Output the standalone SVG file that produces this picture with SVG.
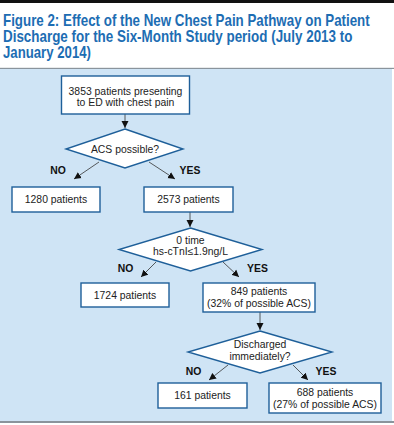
<svg xmlns="http://www.w3.org/2000/svg" width="394" height="425" viewBox="0 0 394 425">
<defs>
<marker id="ah" markerWidth="8" markerHeight="8" refX="7" refY="4" orient="auto" markerUnits="userSpaceOnUse">
<path d="M0,0.5 L7,4 L0,7.5 z" fill="#111"/>
</marker>
<style>
.title{font-family:"Liberation Sans",Arial,sans-serif;font-weight:bold;font-size:16px;fill:#1d6db3}
.box{fill:#fff;stroke:#1e5f99;stroke-width:1.4}
.t{font-family:"Liberation Sans",Arial,sans-serif;font-size:10.4px;fill:#222;text-anchor:middle}
.lbl{font-family:"Liberation Sans",Arial,sans-serif;font-size:10.4px;font-weight:bold;fill:#111;text-anchor:middle}
.c{stroke:#333;stroke-width:0.8;fill:none;marker-end:url(#ah)}
</style>
</defs>
<rect x="0" y="0" width="394" height="425" fill="#fff"/>
<rect x="0" y="0" width="394" height="3" fill="#111"/>
<g id="title">
<text class="title" transform="translate(3,25.7) scale(0.834,1)">Figure 2: Effect of the New Chest Pain Pathway on Patient</text>
<text class="title" transform="translate(3,41.7) scale(0.839,1)">Discharge for the Six-Month Study period (July 2013 to</text>
<text class="title" transform="translate(3,57.7) scale(0.825,1)">January 2014)</text>
</g>
<rect x="0" y="67.8" width="394" height="1.2" fill="#8a949c"/>
<rect x="0" y="69" width="392" height="352" fill="#cfe4f5"/>
<rect x="0" y="421" width="394" height="2" fill="#8a949c"/>

<g id="connectors">
<line class="c" x1="125" y1="114" x2="125" y2="128"/>
<line class="c" x1="99" y1="162" x2="74" y2="179"/>
<line class="c" x1="149" y1="162" x2="175" y2="179"/>
<line class="c" x1="190" y1="212" x2="190" y2="227"/>
<line class="c" x1="156" y1="262" x2="141" y2="277"/>
<line class="c" x1="223" y1="262" x2="239" y2="277"/>
<line class="c" x1="260" y1="312" x2="260" y2="330"/>
<line class="c" x1="228" y1="365" x2="209" y2="380"/>
<line class="c" x1="293" y1="365" x2="308" y2="380"/>
</g>

<g id="n-start">
<rect class="box" x="61.5" y="76" width="128" height="38"/>
<text class="t" x="125.5" y="94.5">3853 patients presenting</text>
<text class="t" x="125.5" y="106">to ED with chest pain</text>
</g>
<g id="n-acs">
<polygon class="box" points="125,129 183,149 125,168 66,149"/>
<text class="t" x="125" y="153">ACS possible?</text>
</g>
<g id="l-acs-no"><text class="lbl" x="58" y="174">NO</text></g>
<g id="l-acs-yes"><text class="lbl" x="190" y="174">YES</text></g>
<g id="n-1280">
<rect class="box" x="12" y="187" width="88" height="25"/>
<text class="t" x="56" y="203">1280 patients</text>
</g>
<g id="n-2573">
<rect class="box" x="144" y="187" width="89" height="25"/>
<text class="t" x="188.5" y="203">2573 patients</text>
</g>
<g id="n-tn">
<polygon class="box" points="190.5,228 262,249.5 190.5,271 119,249.5"/>
<text class="t" x="190.5" y="244">0 time</text>
<text class="t" x="190.5" y="255">hs-cTnI≤1.9ng/L</text>
</g>
<g id="l-tn-no"><text class="lbl" x="125.5" y="272">NO</text></g>
<g id="l-tn-yes"><text class="lbl" x="257.5" y="272">YES</text></g>
<g id="n-1724">
<rect class="box" x="81" y="283" width="88" height="24"/>
<text class="t" x="125" y="299">1724 patients</text>
</g>
<g id="n-849">
<rect class="box" x="203" y="283" width="112" height="29"/>
<text class="t" x="259" y="295">849 patients</text>
<text class="t" x="259" y="306.5">(32% of possible ACS)</text>
</g>
<g id="n-dis">
<polygon class="box" points="260,331 332,352 260,373 188,352"/>
<text class="t" x="260" y="348">Discharged</text>
<text class="t" x="260" y="359.5">immediately?</text>
</g>
<g id="l-dis-no"><text class="lbl" x="193.5" y="375">NO</text></g>
<g id="l-dis-yes"><text class="lbl" x="326" y="375">YES</text></g>
<g id="n-161">
<rect class="box" x="158" y="383" width="89" height="25"/>
<text class="t" x="202.5" y="399">161 patients</text>
</g>
<g id="n-688">
<rect class="box" x="269" y="383" width="112" height="30"/>
<text class="t" x="325" y="396">688 patients</text>
<text class="t" x="325" y="408">(27% of possible ACS)</text>
</g>
</svg>
